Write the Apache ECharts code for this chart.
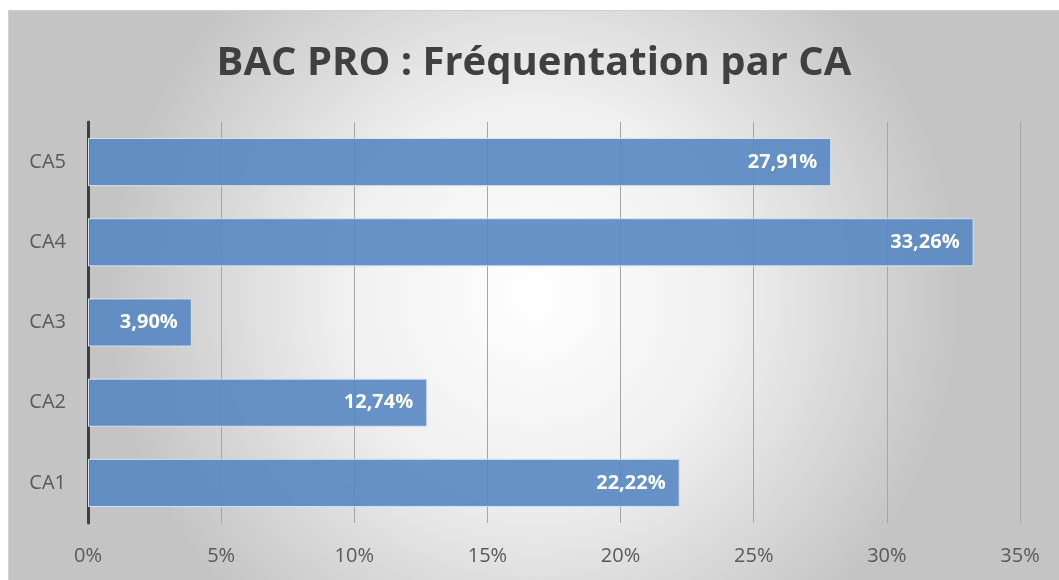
<!DOCTYPE html>
<html><head><meta charset="utf-8">
<script src="https://cdn.jsdelivr.net/npm/echarts@6/dist/echarts.min.js"></script>
<style>
html,body{margin:0;padding:0;background:#fff;}
#c{position:absolute;left:8px;top:10px;width:1051px;height:570px;border-top:1px solid #d0d0d0;border-left:1px solid #d0d0d0;box-sizing:border-box;}
</style></head>
<body><div id="c"></div>
<script>
const categories = ['CA1','CA2','CA3','CA4','CA5'];
const values = [22.22, 12.74, 3.90, 33.26, 27.91];
const titleText = 'BAC PRO : Fréquentation par CA';

const chart = echarts.init(document.getElementById('c'));
chart.setOption({
  backgroundColor: {
    type: 'radial', x: 0.5, y: 0.5, r: 0.75,
    colorStops: [{offset: 0, color: '#ffffff'}, {offset: 0.45, color: '#f0f0f0'}, {offset: 1, color: '#c4c4c4'}]
  },
  title: {
    text: titleText, left: 'center', top: 28,
    textStyle: {fontFamily: 'Open Sans', fontWeight: 'bold', fontSize: 40, color: '#404040'}
  },
  grid: {left: 79, right: 39, top: 111, bottom: 57},
  xAxis: {
    type: 'value', min: 0, max: 35, interval: 5,
    axisLabel: {formatter: '{value}%', fontFamily: 'Open Sans', fontSize: 20, color: '#595959', margin: 23},
    splitLine: {lineStyle: {color: '#a6a6a6', width: 1}},
    axisLine: {show: false}, axisTick: {show: false}
  },
  yAxis: {
    type: 'category', data: categories,
    axisLine: {show: true, lineStyle: {color: '#404040', width: 3}},
    axisTick: {show: false},
    axisLabel: {fontFamily: 'Open Sans', fontSize: 20, color: '#595959', margin: 22}
  },
  series: [{
    type: 'bar', data: values, barWidth: '60%',
    itemStyle: {color: 'rgba(86,135,195,0.9)', borderColor: '#d6e2f0', borderWidth: 1},
    label: {
      show: true, position: 'insideRight', distance: 14,
      formatter: p => p.value.toFixed(2).replace('.', ',') + '%',
      fontFamily: 'Open Sans', fontWeight: 'bold', fontSize: 20, color: '#ffffff'
    }
  }]
});
</script></body></html>
